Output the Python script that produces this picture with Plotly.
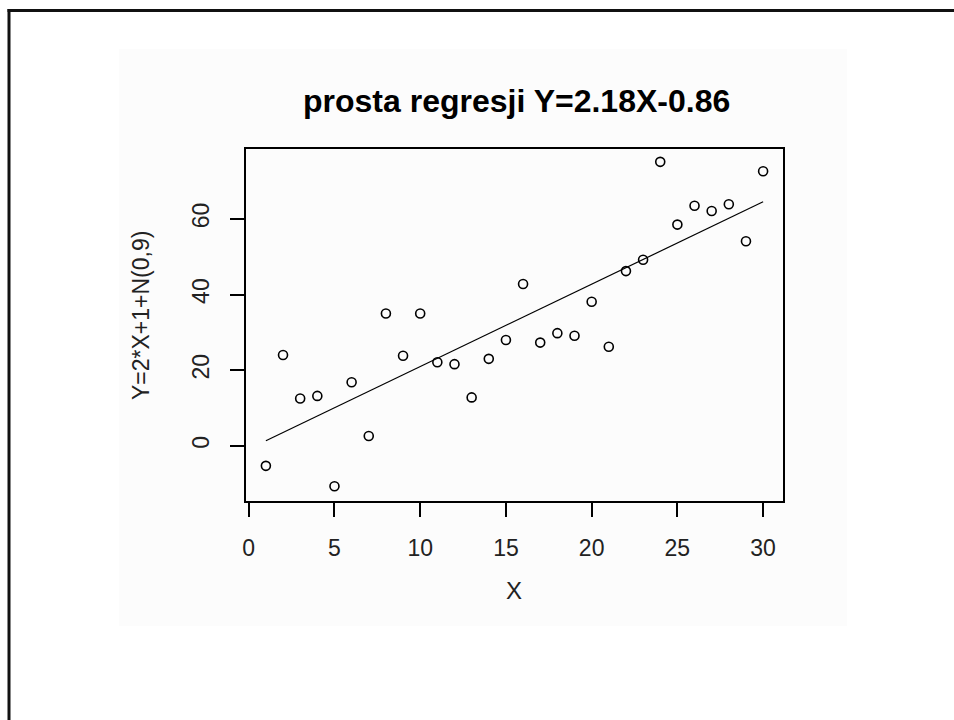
import plotly.graph_objects as go

# Observations: X = 1..30, Y = 2*X + 1 + N(0, 9)
x_vals = list(range(1, 31))
y_vals = [-5.3, 24.0, 12.5, 13.2, -10.7, 16.8, 2.6, 35.0, 23.8, 35.0,
          22.1, 21.6, 12.8, 23.0, 28.0, 42.8, 27.3, 29.8, 29.1, 38.1,
          26.2, 46.2, 49.2, 75.1, 58.5, 63.5, 62.1, 63.9, 54.1, 72.6]

# Fitted regression line (coefficients as printed in the title)
slope = 2.18
intercept = -0.86
fit_x = [min(x_vals), max(x_vals)]
fit_y = [slope * v + intercept for v in fit_x]

x_ticks = [0, 5, 10, 15, 20, 25, 30]
y_ticks = [0, 20, 40, 60]

title_text = "prosta regresji Y=2.18X-0.86"
x_title = "X"
y_title = "Y=2*X+1+N(0,9)"

W, H = 954, 720
L, R, T, B = 246, 783, 149, 501  # plot box in pixels


def px(xp):
    return (xp - L) / (R - L)


def py(yp):
    return (B - yp) / (B - T)


fig = go.Figure()
fig.add_trace(go.Scatter(
    x=x_vals, y=y_vals, mode="markers",
    marker=dict(symbol="circle-open", size=9, color="black",
                line=dict(width=1.6, color="black")),
    showlegend=False, hoverinfo="x+y"))
fig.add_trace(go.Scatter(
    x=fit_x, y=fit_y, mode="lines",
    line=dict(color="black", width=1.2),
    showlegend=False, hoverinfo="skip"))

font_fam = "Liberation Sans, Arial, sans-serif"
axis_common = dict(
    showgrid=False, zeroline=False, showline=True, linecolor="black",
    linewidth=1.5, mirror=True, ticks="outside", ticklen=14,
    tickwidth=1.5, tickcolor="black",
    tickfont=dict(family=font_fam, size=23, color="#222"))

fig.update_layout(
    width=W, height=H,
    margin=dict(l=L, r=W - R, t=T, b=H - B, pad=0),
    paper_bgcolor="white", plot_bgcolor="white",
    xaxis=dict(range=[-0.16, 31.16], tickvals=x_ticks,
               ticklabelstandoff=12, **axis_common),
    yaxis=dict(range=[-14.6, 78.5], tickvals=y_ticks, tickangle=-90,
               ticklabelstandoff=12, **axis_common),
    annotations=[
        dict(text="<b>" + title_text + "</b>", x=px(516), y=py(101),
             xref="paper", yref="paper", showarrow=False,
             font=dict(family=font_fam, size=32, color="black"),
             xanchor="center", yanchor="middle"),
        dict(text=x_title, x=px(514), y=py(590), xref="paper", yref="paper",
             showarrow=False, font=dict(family=font_fam, size=24, color="#222"),
             xanchor="center", yanchor="middle"),
        dict(text=y_title, x=px(141), y=py(316), xref="paper", yref="paper",
             showarrow=False, textangle=-90,
             font=dict(family=font_fam, size=23, color="#222"),
             xanchor="center", yanchor="middle"),
    ],
    shapes=[
        # faint device background panel
        dict(type="rect", xref="paper", yref="paper", layer="below",
             x0=px(119), x1=px(847), y0=py(626), y1=py(49),
             fillcolor="#fcfcfc", line=dict(width=0)),
        # outer frame: left edge
        dict(type="line", xref="paper", yref="paper",
             x0=px(9), x1=px(9), y0=py(730), y1=py(9),
             line=dict(color="#111", width=3)),
        # outer frame: top edge
        dict(type="line", xref="paper", yref="paper",
             x0=px(7.5), x1=px(960), y0=py(10.5), y1=py(10.5),
             line=dict(color="#111", width=3)),
    ],
)

fig.write_html("out.html")
